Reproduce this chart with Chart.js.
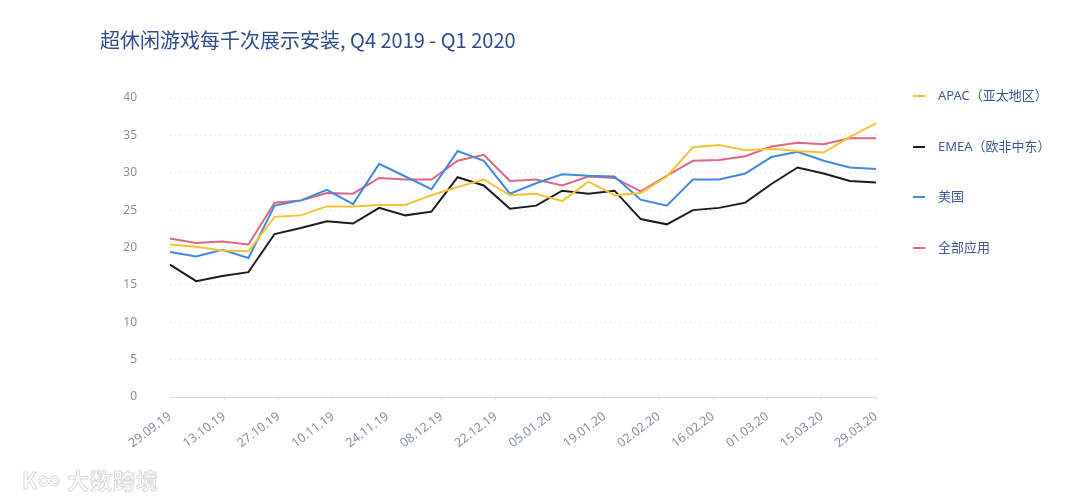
<!DOCTYPE html>
<html>
<head>
<meta charset="utf-8">
<script src="https://cdn.jsdelivr.net/npm/chart.js@4.4.1/dist/chart.umd.min.js"></script>
<style>
  body { margin: 0; background: #fff; font-family: "Noto Sans", "Noto Sans CJK SC", sans-serif; }
  #wrap { position: relative; width: 1080px; height: 501px; }
  #legend { position: absolute; left: 913px; top: 86px; }
  .item { height: 50.5px; display: flex; align-items: flex-start; font-size: 13px; color: #3d5799; line-height: 18px; }
  .item span.mk { display: inline-block; width: 12px; height: 2px; margin-top: 9px; margin-right: 13px; }
  #mark { position: absolute; left: 22px; top: 463px; font-size: 22px; font-weight: bold; color: #fff;
          -webkit-text-stroke: 1px #dadada; font-family: "Noto Sans CJK SC", sans-serif; letter-spacing: 1px; }
</style>
</head>
<body>
<div id="wrap">
  <canvas id="c" width="1080" height="501"></canvas>
  <div id="legend"></div>
  <div id="mark">K∞ 大数跨境</div>
</div>
<script>
// weekly points (28), date labels every 2 weeks (14)
var weeks = [];
for (var i = 0; i < 28; i++) weeks.push(i);
var dateLabels = ['29.09.19', '13.10.19', '27.10.19', '10.11.19', '24.11.19', '08.12.19', '22.12.19',
                  '05.01.20', '19.01.20', '02.02.20', '16.02.20', '01.03.20', '15.03.20', '29.03.20'];
var yTicks = [0, 5, 10, 15, 20, 25, 30, 35, 40];

var apac = [20.4, 20.1, 19.6, 19.5, 24.1, 24.3, 25.5, 25.5, 25.7, 25.7, 27.0, 28.1, 29.1, 27.0,
            27.2, 26.2, 28.8, 27.0, 27.3, 29.5, 33.4, 33.7, 33.0, 33.2, 32.9, 32.7, 34.8, 36.6];
var emea = [17.7, 15.5, 16.2, 16.7, 21.8, 22.6, 23.5, 23.2, 25.3, 24.3, 24.8, 29.4, 28.3, 25.2,
            25.6, 27.6, 27.2, 27.6, 23.8, 23.1, 25.0, 25.3, 26.0, 28.5, 30.7, 29.9, 28.9, 28.7];
var usa  = [19.4, 18.8, 19.7, 18.6, 25.6, 26.3, 27.7, 25.8, 31.2, 29.5, 27.8, 32.9, 31.6, 27.2,
            28.6, 29.8, 29.6, 29.5, 26.4, 25.6, 29.1, 29.1, 29.9, 32.1, 32.8, 31.6, 30.7, 30.5];
var allApps = [21.2, 20.6, 20.8, 20.4, 26.0, 26.3, 27.3, 27.2, 29.3, 29.1, 29.1, 31.6, 32.4, 28.9,
               29.1, 28.3, 29.5, 29.3, 27.5, 29.6, 31.6, 31.7, 32.2, 33.5, 34.0, 33.8, 34.6, 34.6];

var names = ['APAC（亚太地区）', 'EMEA（欧非中东）', '美国', '全部应用'];
var colors = ['#f7c232', '#1c1c1c', '#3d8ae0', '#e0667f'];
var series = [apac, emea, usa, allApps];

var datasets = series.map(function(d, k) {
    return { label: names[k], data: d, borderColor: colors[k], backgroundColor: colors[k],
             borderWidth: 2, pointRadius: 0, tension: 0, xAxisID: 'x' };
});

new Chart(document.getElementById('c'), {
    type: 'line',
    data: { labels: weeks, datasets: datasets },
    options: {
        responsive: false,
        animation: false,
        layout: { padding: { left: 100, right: 204, top: 28, bottom: 0 } },
        plugins: {
            legend: { display: false },
            tooltip: { enabled: false },
            title: {
                display: true, align: 'start', text: '超休闲游戏每千次展示安装, Q4 2019 - Q1 2020',
                color: '#2f4b8f', font: { size: 20, family: '"Noto Sans CJK SC", "Noto Sans", sans-serif', weight: 'normal' },
                padding: { top: 0, bottom: 46 }
            }
        },
        scales: {
            x: { type: 'category', display: false, offset: false },
            x2: {
                type: 'category', labels: dateLabels, position: 'bottom', offset: false,
                grid: { drawOnChartArea: false, drawTicks: true, tickLength: 3, color: '#e2e2e2' },
                border: { color: '#dcdcdc' },
                ticks: { color: '#8a90a3', font: { size: 12.5, family: '"Noto Sans", sans-serif' },
                         minRotation: 37, maxRotation: 37, padding: 9, autoSkip: false },
                afterFit: function(s) { s.height = 104; }
            },
            y: {
                min: 0, max: 40,
                afterBuildTicks: function(s) { s.ticks = yTicks.map(function(v) { return { value: v }; }); },
                grid: { color: '#d4d4d4', drawTicks: false, lineWidth: 1 },
                border: { display: false, dash: [1, 4] },
                ticks: { color: '#8a90a3', font: { size: 12, family: '"Noto Sans", sans-serif' }, padding: 33 },
                afterFit: function(s) { s.width = 70; }
            }
        }
    }
});

// legend built from the same names/colours
var lg = document.getElementById('legend');
names.forEach(function(n, k) {
    var d = document.createElement('div');
    d.className = 'item';
    d.innerHTML = '<span class="mk" style="background:' + colors[k] + '"></span>' + n;
    lg.appendChild(d);
});
</script>
</body>
</html>
